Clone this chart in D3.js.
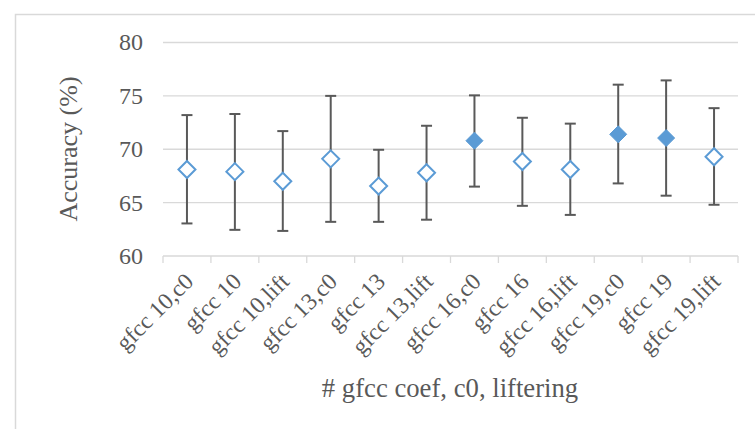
<!DOCTYPE html>
<html>
<head>
<meta charset="utf-8">
<script src="https://cdn.jsdelivr.net/npm/d3@7"></script>
<style>
  body { margin: 0; background: #fff; }
</style>
</head>
<body>
<svg id="chart" width="755" height="429" font-family="'Liberation Serif', 'Times New Roman', serif"></svg>
<script>
const categories = ["gfcc 10,c0", "gfcc 10", "gfcc 10,lift", "gfcc 13,c0", "gfcc 13", "gfcc 13,lift",
  "gfcc 16,c0", "gfcc 16", "gfcc 16,lift", "gfcc 19,c0", "gfcc 19", "gfcc 19,lift"];
const means = [68.1, 67.9, 67.0, 69.1, 66.55, 67.8, 70.8, 68.85, 68.1, 71.4, 71.05, 69.3];
const upper = [73.2, 73.3, 71.7, 75.0, 69.95, 72.2, 75.05, 72.95, 72.4, 76.05, 76.45, 73.85];
const lower = [63.05, 62.45, 62.35, 63.2, 63.2, 63.4, 66.5, 64.7, 63.85, 66.8, 65.65, 64.8];
const filled = [false, false, false, false, false, false, true, false, false, true, true, false];
const yTicks = [60, 65, 70, 75, 80];

const svg = d3.select("#chart");
const margin = { left: 163, right: 17, top: 42.5, bottom: 173 };
const W = 755, H = 429;
const textColor = "#595959";

// chart frame
svg.append("rect")
  .attr("x", 15.5).attr("y", 14.5)
  .attr("width", 800).attr("height", 500)
  .attr("fill", "none").attr("stroke", "#d9d9d9").attr("stroke-width", 1.5);

const x = d3.scaleBand().domain(categories).range([margin.left, W - margin.right]);
const y = d3.scaleLinear().domain([60, 80]).range([H - margin.bottom, margin.top]);

// gridlines
svg.append("g").selectAll("line")
  .data(yTicks.slice(1))
  .enter().append("line")
  .attr("x1", margin.left).attr("x2", W - margin.right)
  .attr("y1", d => y(d)).attr("y2", d => y(d))
  .attr("stroke", "#d9d9d9").attr("stroke-width", 1.3);

// y labels
svg.append("g").selectAll("text")
  .data(yTicks)
  .enter().append("text")
  .attr("x", 143).attr("y", d => y(d))
  .attr("dy", "0.33em")
  .attr("text-anchor", "end")
  .attr("fill", textColor)
  .style("font-size", "24px")
  .text(d => d);

// x axis
const xAxis = svg.append("g")
  .attr("transform", `translate(0,${y(60)})`);
xAxis.append("line")
  .attr("x1", margin.left).attr("x2", W - margin.right)
  .attr("stroke", "#d9d9d9").attr("stroke-width", 1.3);
xAxis.selectAll(".tick")
  .data(categories.concat([null]))
  .enter().append("line")
  .attr("x1", (d, i) => margin.left + i * x.step())
  .attr("x2", (d, i) => margin.left + i * x.step())
  .attr("y1", 0).attr("y2", 7)
  .attr("stroke", "#d9d9d9").attr("stroke-width", 1.3);

svg.append("g").selectAll("text")
  .data(categories)
  .enter().append("text")
  .attr("transform", d => `translate(${x(d) + x.bandwidth() / 2 + 2},${y(60) + 21}) rotate(-45)`)
  .attr("text-anchor", "end")
  .attr("dy", "0.35em")
  .attr("fill", textColor)
  .style("font-size", "23.5px")
  .text(d => d);

// axis titles
svg.append("text")
  .attr("transform", `translate(76.5,149) rotate(-90)`)
  .attr("text-anchor", "middle")
  .attr("fill", textColor)
  .style("font-size", "26px")
  .text("Accuracy (%)");

svg.append("text")
  .attr("x", 450).attr("y", 397)
  .attr("text-anchor", "middle")
  .attr("fill", textColor)
  .style("font-size", "26.7px")
  .text("# gfcc coef, c0, liftering");

// error bars
const bars = svg.append("g").selectAll("g")
  .data(categories)
  .enter().append("g")
  .attr("transform", d => `translate(${x(d) + x.bandwidth() / 2},0)`);
bars.append("line")
  .attr("y1", (d, i) => y(upper[i])).attr("y2", (d, i) => y(lower[i]))
  .attr("stroke", "#595959").attr("stroke-width", 2);
bars.append("line")
  .attr("x1", -5.5).attr("x2", 5.5)
  .attr("y1", (d, i) => y(upper[i])).attr("y2", (d, i) => y(upper[i]))
  .attr("stroke", "#595959").attr("stroke-width", 2);
bars.append("line")
  .attr("x1", -5.5).attr("x2", 5.5)
  .attr("y1", (d, i) => y(lower[i])).attr("y2", (d, i) => y(lower[i]))
  .attr("stroke", "#595959").attr("stroke-width", 2);

// markers
bars.append("path")
  .attr("d", "M0,-8.5L8.5,0L0,8.5L-8.5,0Z")
  .attr("transform", (d, i) => `translate(0,${y(means[i])})`)
  .attr("fill", (d, i) => filled[i] ? "#5b9bd5" : "#fff")
  .attr("stroke", "#5b9bd5")
  .attr("stroke-width", (d, i) => filled[i] ? 1 : 2);
</script>
</body>
</html>
